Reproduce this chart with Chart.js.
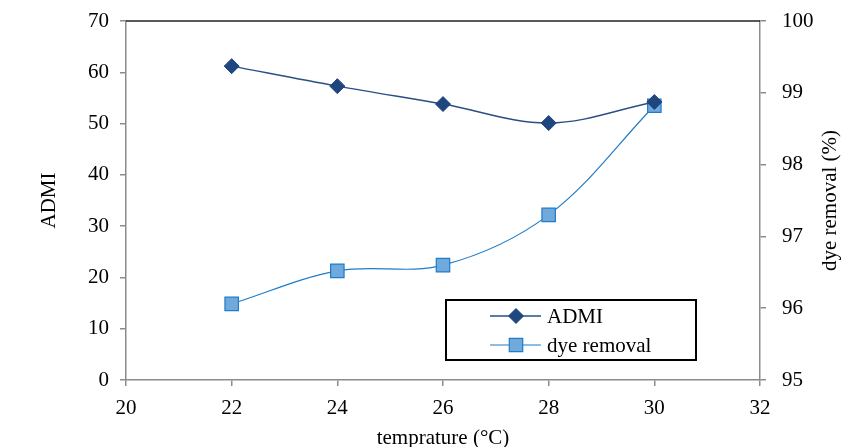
<!DOCTYPE html>
<html>
<head>
<meta charset="utf-8">
<script src="https://cdn.jsdelivr.net/npm/chart.js@4/dist/chart.umd.min.js"></script>
<style>
  html, body { margin: 0; padding: 0; background: #fff; }
  #wrap { width: 844px; height: 447px; }
</style>
</head>
<body>
<div id="wrap"><canvas id="chart" width="844" height="447"></canvas></div>
<script>
// temperature (°C)
const temps = [22, 24, 26, 28, 30];
// ADMI values (left axis)
const admi = [61.2, 57.3, 53.8, 50.1, 54.2];
// dye removal % (right axis)
const dyeRemoval = [96.06, 96.52, 96.6, 97.3, 98.82];

const serif = "'Liberation Serif', 'DejaVu Serif', serif";
const axisGrey = '#8c8c8c';
const fontSize = 21;

// draws the top frame line, right-axis title and the boxed legend
const framePlugin = {
  id: 'frame',
  afterDraw(chart) {
    const { ctx, chartArea } = chart;
    ctx.save();
    ctx.strokeStyle = '#222';
    ctx.lineWidth = 1.5;
    ctx.beginPath();
    ctx.moveTo(chartArea.left, chartArea.top);
    ctx.lineTo(chartArea.right, chartArea.top);
    ctx.stroke();

    // right axis title, reading bottom to top
    ctx.save();
    ctx.translate(830, (chartArea.top + chartArea.bottom) / 2);
    ctx.rotate(-Math.PI / 2);
    ctx.fillStyle = '#000';
    ctx.font = fontSize + 'px ' + serif;
    ctx.textAlign = 'center';
    ctx.textBaseline = 'middle';
    ctx.fillText('dye removal (%)', 0, 0);
    ctx.restore();

    // legend box
    const bx = 446, by = 300, bw = 250, bh = 60;
    ctx.fillStyle = '#fff';
    ctx.fillRect(bx, by, bw, bh);
    ctx.strokeStyle = '#000';
    ctx.lineWidth = 2;
    ctx.strokeRect(bx, by, bw, bh);

    const rows = [316, 345];
    chart.data.datasets.forEach((ds, i) => {
      const y = rows[i];
      ctx.strokeStyle = ds.borderColor;
      ctx.lineWidth = ds.borderWidth;
      ctx.beginPath();
      ctx.moveTo(490, y);
      ctx.lineTo(541, y);
      ctx.stroke();
      ctx.fillStyle = ds.pointBackgroundColor;
      ctx.strokeStyle = ds.pointBorderColor;
      ctx.lineWidth = ds.pointBorderWidth;
      ctx.beginPath();
      if (ds.pointStyle === 'rectRot') {
        const r = ds.pointRadius;
        ctx.moveTo(516 - r, y); ctx.lineTo(516, y - r);
        ctx.lineTo(516 + r, y); ctx.lineTo(516, y + r);
        ctx.closePath();
      } else {
        const s = ds.pointRadius * Math.SQRT1_2;
        ctx.rect(516 - s, y - s, 2 * s, 2 * s);
      }
      ctx.fill();
      ctx.stroke();
      ctx.fillStyle = '#000';
      ctx.font = fontSize + 'px ' + serif;
      ctx.textBaseline = 'middle';
      ctx.textAlign = 'left';
      ctx.fillText(ds.label, 547, y + 1);
    });
    ctx.restore();
  }
};

// fixed axis sizes so the plot box sits where it does in the original
function fixVertical(width) {
  return function (scale) {
    scale.width = width;
    scale.paddingTop = 0;
    scale.paddingBottom = 0;
  };
}

new Chart(document.getElementById('chart').getContext('2d'), {
  type: 'line',
  data: {
    datasets: [
      {
        label: 'ADMI',
        data: temps.map((t, i) => ({ x: t, y: admi[i] })),
        yAxisID: 'y',
        borderColor: '#2a4f86',
        borderWidth: 1.5,
        pointStyle: 'rectRot',
        pointRadius: 7.5,
        pointBackgroundColor: '#1f467f',
        pointBorderColor: '#1f467f',
        pointBorderWidth: 1,
        tension: 0.35,
        order: 1
      },
      {
        label: 'dye removal',
        data: temps.map((t, i) => ({ x: t, y: dyeRemoval[i] })),
        yAxisID: 'y2',
        borderColor: '#1f7cc9',
        borderWidth: 1.2,
        pointStyle: 'rect',
        pointRadius: 9.5,
        pointBackgroundColor: '#70a9dc',
        pointBorderColor: '#1f7cc9',
        pointBorderWidth: 1.2,
        tension: 0.35,
        order: 2
      }
    ]
  },
  options: {
    responsive: false,
    animation: false,
    layout: { padding: { top: 21, left: 0, right: 0, bottom: 0 } },
    plugins: {
      legend: { display: false },
      tooltip: { enabled: false }
    },
    scales: {
      x: {
        type: 'linear',
        min: 20,
        max: 32,
        afterFit(scale) { scale.height = 67; scale.paddingLeft = 0; scale.paddingRight = 0; },
        ticks: { stepSize: 2, color: '#000', font: { family: serif, size: fontSize }, padding: 10 },
        grid: { drawOnChartArea: false, color: axisGrey, tickLength: 6, lineWidth: 1.5 },
        border: { color: axisGrey, width: 1.5 },
        title: { display: true, text: 'temprature (°C)', color: '#000', font: { family: serif, size: fontSize }, padding: { top: 0, bottom: -4 } }
      },
      y: {
        position: 'left',
        min: 0,
        max: 70,
        afterFit: fixVertical(126),
        ticks: { stepSize: 10, color: '#000', font: { family: serif, size: fontSize }, padding: 11 },
        grid: { drawOnChartArea: false, color: axisGrey, tickLength: 6, lineWidth: 1.5 },
        border: { color: axisGrey, width: 1.5 },
        title: { display: true, text: 'ADMI', color: '#000', font: { family: serif, size: fontSize }, padding: { top: 37, bottom: 0 } }
      },
      y2: {
        position: 'right',
        min: 95,
        max: 100,
        afterFit: fixVertical(84),
        ticks: { stepSize: 1, color: '#000', font: { family: serif, size: fontSize }, padding: 16 },
        grid: { drawOnChartArea: false, color: axisGrey, tickLength: 6, lineWidth: 1.5 },
        border: { color: axisGrey, width: 1.5 },
        title: { display: false }
      }
    }
  },
  plugins: [framePlugin]
});
</script>
</body>
</html>
